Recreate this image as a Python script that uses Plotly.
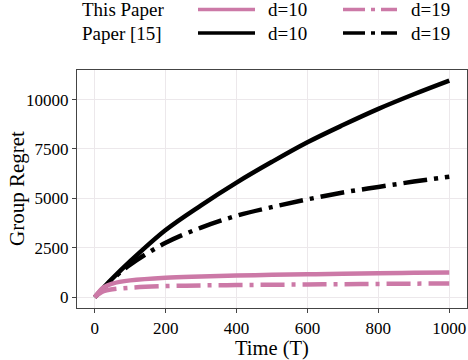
import plotly.graph_objects as go

# Time steps (T) and group regret
T = [0, 25, 50, 100, 200, 300, 400, 500, 600, 700, 800, 900, 1000]

ours_d10 = [0, 500, 690, 850, 990, 1050, 1095, 1130, 1160, 1190, 1215, 1235, 1255]
ours_d19 = [0, 300, 400, 480, 560, 595, 615, 630, 645, 660, 672, 684, 695]
ref_d10 = [0, 480, 950, 1820, 3400, 4650, 5800, 6850, 7840, 8710, 9530, 10270, 10960]
ref_d19 = [0, 460, 900, 1650, 2750, 3520, 4120, 4560, 4950, 5300, 5580, 5850, 6100]

PINK = "#CC79A7"
BLACK = "#000000"
FONT = "Liberation Serif"
DASHDOT = "24px,7px,4px,7px"

W, H = 468, 360
L, R, TOP, BOT = 77, 467, 70, 308


def px(x):
    return (x - L) / (R - L)


def py(y):
    return (BOT - y) / (BOT - TOP)


fig = go.Figure()
fig.add_trace(go.Scatter(x=T, y=ref_d10, mode="lines", line=dict(color=BLACK, width=4.5),
                         line_shape="spline", showlegend=False))
fig.add_trace(go.Scatter(x=T, y=ref_d19, mode="lines", line=dict(color=BLACK, width=4.5, dash=DASHDOT),
                         line_shape="spline", showlegend=False))
fig.add_trace(go.Scatter(x=T, y=ours_d10, mode="lines", line=dict(color=PINK, width=4.5),
                         line_shape="spline", showlegend=False))
fig.add_trace(go.Scatter(x=T, y=ours_d19, mode="lines", line=dict(color=PINK, width=4.5, dash=DASHDOT),
                         line_shape="spline", showlegend=False))

# hand-built legend: row label, solid sample + d=10, dash-dot sample + d=19
rows = [("This Paper", PINK, 9.5), ("Paper [15]", BLACK, 33)]
for label, col, yy in rows:
    fig.add_annotation(x=px(80), y=py(yy), xref="paper", yref="paper", text=label,
                       showarrow=False, xanchor="left", yanchor="middle",
                       font=dict(family=FONT, size=19, color="black"))
    fig.add_shape(type="line", xref="paper", yref="paper", x0=px(198), x1=px(255),
                  y0=py(yy), y1=py(yy), line=dict(color=col, width=3.5))
    fig.add_annotation(x=px(266), y=py(yy), xref="paper", yref="paper", text="d=10",
                       showarrow=False, xanchor="left", yanchor="middle",
                       font=dict(family=FONT, size=19, color="black"))
    fig.add_shape(type="line", xref="paper", yref="paper", x0=px(343), x1=px(397),
                  y0=py(yy), y1=py(yy), line=dict(color=col, width=3.5, dash="22px,6px,4px,6px"))
    fig.add_annotation(x=px(409), y=py(yy), xref="paper", yref="paper", text="d=19",
                       showarrow=False, xanchor="left", yanchor="middle",
                       font=dict(family=FONT, size=19, color="black"))

# axis titles placed by hand
fig.add_annotation(x=px(272), y=py(348), xref="paper", yref="paper", text="Time (T)",
                   showarrow=False, xanchor="center", yanchor="middle",
                   font=dict(family=FONT, size=20.5, color="black"))
fig.add_annotation(x=px(17), y=py(189), xref="paper", yref="paper", text="Group Regret",
                   showarrow=False, xanchor="center", yanchor="middle", textangle=-90,
                   font=dict(family=FONT, size=21, color="black"))

fig.update_xaxes(range=[-50, 1050], tickvals=[0, 200, 400, 600, 800, 1000],
                 showgrid=True, gridcolor="#ece8eb", gridwidth=1, zeroline=False,
                 showline=True, linecolor="#444444", linewidth=1.2, mirror=True,
                 ticks="outside", ticklen=4, tickcolor="#444444", automargin=False,
                 tickfont=dict(family=FONT, size=17, color="black"))
fig.update_yaxes(range=[-547, 11497], tickvals=[0, 2500, 5000, 7500, 10000], tickformat="d",
                 showgrid=True, gridcolor="#ece8eb", gridwidth=1, zeroline=False,
                 showline=True, linecolor="#444444", linewidth=1.2, mirror=True,
                 ticks="outside", ticklen=4, tickcolor="#444444", automargin=False,
                 tickfont=dict(family=FONT, size=17, color="black"))

fig.update_layout(width=W, height=H, plot_bgcolor="white", paper_bgcolor="white",
                  margin=dict(l=L, r=W - R, t=TOP, b=H - BOT), showlegend=False)

# drop the browser's default 8px body margin so the figure sits at the page corner
fig.write_html("out.html", config={"displayModeBar": False},
               post_script="document.body.style.margin='0px';")
